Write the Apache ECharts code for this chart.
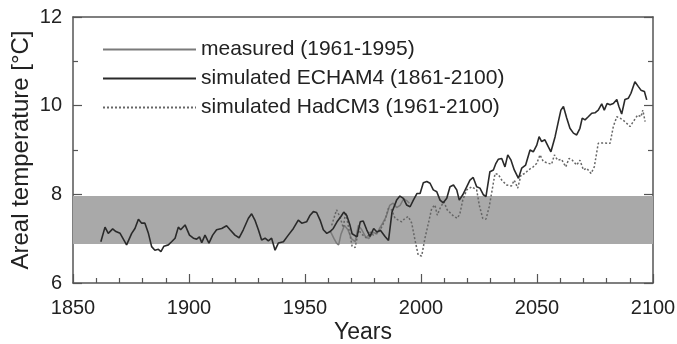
<!DOCTYPE html>
<html>
<head>
<meta charset="utf-8">
<script src="https://cdn.jsdelivr.net/npm/echarts@6/dist/echarts.min.js"></script>
<style>html,body{margin:0;padding:0;background:#fff}#c{width:677px;height:344px}</style>
</head>
<body>
<div id="c"></div>
<script>
// ---- data ----
var xTicks = [1850, 1900, 1950, 2000, 2050, 2100];
var yTicks = [6, 8, 10, 12];
var bandRange = [6.88, 7.96];

var measuredYears = [1961,1962.5,1963.6,1964.5,1965.5,1967,1968.5,1970,1971.6,1973,1974.5,1976,1977.5,1979.4,1980.9,1982.3,1983.5,1985,1986.5,1988,1989.5,1991,1992.5,1994,1995];
var measuredVals  = [7.16,7.0,6.9,6.86,7.1,7.3,7.2,7.0,6.93,7.3,7.2,7.05,7.0,7.15,7.1,7.25,7.35,7.5,7.75,7.8,7.7,7.75,7.9,7.85,7.8];

var echamYears = [1862,1863.8,1865.2,1867.1,1868.5,1870.3,1873.1,1875.3,1876.7,1878.2,1879.6,1881,1882.5,1883.9,1885.3,1886.8,1887.9,1889.2,1891.1,1892.5,1894,1895.4,1896.4,1898.3,1900.2,1901.9,1903.3,1904.5,1905.5,1906.9,1908.6,1910.2,1911.9,1914.1,1916.2,1917.7,1919.8,1921.6,1923.4,1925.6,1927,1928.4,1929.9,1931.3,1932.8,1934.2,1935.6,1937.1,1938.5,1940.7,1942.8,1945,1947.1,1948.6,1950.7,1952.2,1953.6,1955,1956.5,1957.9,1959.4,1960.8,1962.2,1963.8,1965.5,1966.7,1968,1969.4,1970.3,1972.4,1973.8,1975.1,1976.6,1978,1979.6,1981,1982.5,1984.5,1986,1987.5,1989.5,1990.9,1992.4,1993.8,1995.3,1996.7,1998.3,1999.6,2001,2002.5,2003.9,2005.3,2006.8,2008.2,2009.6,2011.1,2012.5,2014,2015.4,2016.5,2018,2019.7,2021.1,2022.5,2024,2025.4,2026.9,2028,2029.7,2031.2,2032.3,2033.3,2034.8,2036.2,2037.4,2038.8,2040.2,2042,2043.4,2045.1,2047,2048.4,2049.9,2050.9,2052,2053.4,2054.9,2056,2057.8,2059.2,2060.3,2061.4,2062.8,2064.2,2065.7,2067.1,2068.5,2069.5,2070.7,2072.1,2073.6,2075,2076.4,2077.9,2079,2080.2,2081.5,2082.9,2084.4,2085.3,2086.5,2087.9,2089.4,2090.5,2092.2,2093.7,2094.8,2096.3,2097.3];
var echamVals  = [6.93,7.26,7.12,7.22,7.16,7.12,6.86,7.12,7.23,7.44,7.35,7.35,7.12,6.82,6.74,6.76,6.71,6.83,6.86,6.93,7.01,7.26,7.2,7.31,7.08,7.01,6.99,7.04,6.91,7.08,6.9,7.08,7.2,7.23,7.29,7.2,7.08,7.02,7.2,7.46,7.56,7.42,7.2,6.97,7.01,6.95,7.01,6.74,6.9,6.93,7.08,7.23,7.42,7.35,7.38,7.53,7.61,7.59,7.42,7.2,7.12,7.16,7.23,7.38,7.5,7.6,7.52,7.3,7.11,7.04,7.38,7.4,7.2,7.05,7.23,7.15,7.19,7.05,6.96,7.6,7.87,7.96,7.91,7.76,7.72,7.87,8.02,8.02,8.26,8.29,8.25,8.1,8.06,7.87,7.81,7.91,8.17,8.21,8.1,7.87,7.99,8.17,8.32,8.38,8.17,8.14,7.99,7.95,8.51,8.55,8.7,8.79,8.81,8.62,8.89,8.77,8.55,8.36,8.59,8.66,9.0,8.96,9.11,9.3,9.19,9.23,9.07,8.96,9.3,9.64,9.9,9.98,9.72,9.49,9.38,9.34,9.49,9.72,9.68,9.75,9.83,9.84,9.9,10.04,9.9,10.05,10.02,10.05,10.14,9.98,9.81,10.14,10.17,10.28,10.54,10.43,10.35,10.32,10.13];

var hadYears = [1961.5,1963.6,1965,1966.5,1967.5,1969,1970.3,1971.6,1973.1,1974.5,1976.6,1978.2,1979.4,1982.3,1984.5,1985.9,1987.4,1988.8,1990.2,1991.7,1993.1,1994.5,1996,1997.4,1998.8,2000.3,2001.7,2003.2,2004.6,2006,2007,2008.5,2009.9,2011.3,2012.8,2014.2,2015.7,2016.8,2018,2019.7,2021.9,2024,2025.1,2026.6,2028,2029.4,2030.9,2031.9,2033.3,2034.8,2036.9,2039,2040.2,2041.7,2043.1,2044.8,2046.3,2048.4,2049.9,2051.3,2052.7,2054.9,2056.3,2057.5,2058.9,2060.6,2062.4,2063.8,2065.2,2067.1,2068.5,2070,2071.4,2073.3,2074.7,2076.4,2078.6,2081.5,2082.9,2084.4,2085.8,2087.9,2090.1,2091.5,2093.4,2094.8,2095.6,2096.6];
var hadVals  = [7.3,7.65,7.5,7.25,7.6,7.2,6.83,6.8,7.19,7.1,7.01,7.15,7.08,7.18,7.42,7.68,7.65,7.46,7.42,7.38,7.46,7.5,7.35,6.97,6.63,6.61,7.01,7.35,7.68,7.76,7.53,7.72,7.83,7.65,7.57,7.5,7.46,7.57,7.87,8.1,8.17,8.1,7.76,7.46,7.44,7.72,8.17,8.47,8.45,8.32,8.21,8.19,8.32,8.14,8.44,8.47,8.55,8.62,8.7,8.89,8.74,8.7,8.68,8.89,8.77,8.79,8.62,8.81,8.77,8.66,8.77,8.55,8.59,8.47,8.62,9.15,9.16,9.15,9.53,9.75,9.72,9.64,9.53,9.64,9.79,9.75,9.9,9.64];

function pairs(xs, ys){ return xs.map(function(x,i){ return [x, ys[i]]; }); }

var FONT = 'Liberation Sans, Arial, sans-serif';
var AX = '#555';

var chart = echarts.init(document.getElementById('c'), null, {renderer:'canvas'});
chart.setOption({
  backgroundColor: '#fff',
  animation: false,
  grid: {left: 73, right: 24, top: 17, bottom: 61, containLabel: false, outerBoundsMode: 'none'},
  legend: {
    orient: 'vertical', left: 97, top: 34, itemWidth: 93, itemHeight: 14, itemGap: 8,
    itemStyle: {opacity: 0, borderWidth: 0},
    textStyle: {fontFamily: FONT, fontSize: 21, color: '#222', padding: [0,0,0,0]},
    data: ['measured (1961-1995)', 'simulated ECHAM4 (1861-2100)', 'simulated HadCM3 (1961-2100)']
  },
  xAxis: [{
    type: 'value', min: xTicks[0], max: xTicks[xTicks.length-1], interval: 50,
    name: 'Years', nameLocation: 'middle', nameGap: 38, nameMoveOverlap: false,
    nameTextStyle: {fontFamily: FONT, fontSize: 23, color: '#222'},
    axisLine: {lineStyle: {color: AX, width: 1.5}},
    axisTick: {inside: true, length: 9, lineStyle: {color: AX, width: 1.2}},
    minorTick: {show: true, splitNumber: 5, length: 5, lineStyle: {color: AX, width: 1.2}},
    axisLabel: {fontFamily: FONT, fontSize: 20, color: '#222', margin: 15,
      formatter: function(v){ return String(v); }},
    splitLine: {show: false}
  }, {
    type: 'value', position: 'top', min: 1850, max: 2100,
    axisLine: {show: true, lineStyle: {color: AX, width: 1.5}},
    axisTick: {show: false}, axisLabel: {show: false}, splitLine: {show: false}
  }],
  yAxis: [{
    type: 'value', min: yTicks[0], max: yTicks[yTicks.length-1], interval: 2,
    name: 'Areal temperature [°C]', nameLocation: 'middle', nameGap: 40, nameRotate: 90,
    nameMoveOverlap: false,
    nameTextStyle: {fontFamily: FONT, fontSize: 24, color: '#222'},
    axisLine: {show: true, lineStyle: {color: AX, width: 1.5}},
    axisTick: {inside: true, length: 9, lineStyle: {color: AX, width: 1.2}},
    minorTick: {show: true, splitNumber: 2, length: 5, lineStyle: {color: AX, width: 1.2}},
    axisLabel: {fontFamily: FONT, fontSize: 20, color: '#222', margin: 11},
    splitLine: {show: false}
  }, {
    type: 'value', position: 'right', min: 6, max: 12, interval: 2,
    axisLine: {show: true, lineStyle: {color: AX, width: 1.5}},
    axisTick: {inside: true, length: 9, lineStyle: {color: AX, width: 1.2}},
    minorTick: {show: true, splitNumber: 2, length: 5, lineStyle: {color: AX, width: 1.2}},
    axisLabel: {show: false}, splitLine: {show: false}
  }],
  series: [{
    name: 'band', type: 'line', data: [], silent: true,
    markArea: {silent: true, itemStyle: {color: '#a9a9a9', opacity: 1},
      data: [[{yAxis: bandRange[0]}, {yAxis: bandRange[1]}]]},
    z: 1
  }, {
    name: 'measured (1961-1995)', type: 'line', showSymbol: false, symbol: 'none',
    data: pairs(measuredYears, measuredVals), z: 3,
    lineStyle: {color: '#7a7a7a', width: 1.5}, itemStyle: {color: '#7a7a7a'}
  }, {
    name: 'simulated ECHAM4 (1861-2100)', type: 'line', showSymbol: false, symbol: 'none',
    data: pairs(echamYears, echamVals), z: 4,
    lineStyle: {color: '#2a2a2a', width: 1.6}, itemStyle: {color: '#2a2a2a'}
  }, {
    name: 'simulated HadCM3 (1961-2100)', type: 'line', showSymbol: false, symbol: 'none',
    data: pairs(hadYears, hadVals), z: 3,
    lineStyle: {color: '#666', width: 1.5, type: [2, 2]}, itemStyle: {color: '#666'}
  }]
});
</script>
</body>
</html>
